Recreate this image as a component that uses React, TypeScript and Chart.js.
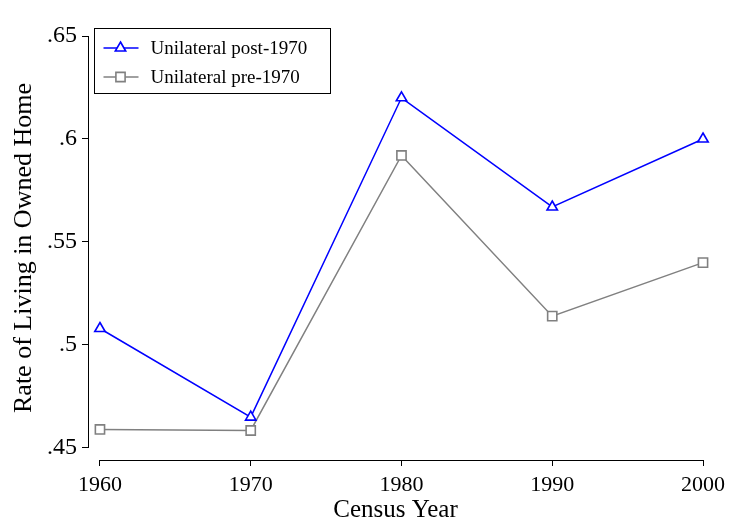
import React, { useEffect, useRef } from "react";
import { Chart, registerables } from "chart.js";

Chart.register(...registerables);

const YEARS = [1960, 1970, 1980, 1990, 2000];
const POST_1970 = [0.508, 0.465, 0.62, 0.567, 0.6];
const PRE_1970 = [0.459, 0.4585, 0.592, 0.514, 0.54];
const Y_TICKS = [0.45, 0.5, 0.55, 0.6, 0.65];
const X_TICKS = [1960, 1970, 1980, 1990, 2000];
const SERIES_LABELS = ["Unilateral post-1970", "Unilateral pre-1970"];

const FONT = "'Liberation Serif', 'DejaVu Serif', serif";

const axisLines = {
  id: "axisLines",
  afterDraw(chart: any) {
    const { ctx, chartArea, scales } = chart;
    const x = scales.x;
    const y = scales.y;
    ctx.save();
    ctx.strokeStyle = "#000";
    ctx.lineWidth = 1;
    const lx = Math.round(chartArea.left) + 0.5;
    const by = Math.round(chartArea.bottom) + 0.5;
    ctx.beginPath();
    ctx.moveTo(lx, y.getPixelForValue(Y_TICKS[0]));
    ctx.lineTo(lx, y.getPixelForValue(Y_TICKS[Y_TICKS.length - 1]));
    ctx.moveTo(x.getPixelForValue(X_TICKS[0]), by);
    ctx.lineTo(x.getPixelForValue(X_TICKS[X_TICKS.length - 1]), by);
    ctx.stroke();
    ctx.restore();
  },
};

function drawMarker(ctx: CanvasRenderingContext2D, style: string, cx: number, cy: number, r: number) {
  ctx.beginPath();
  if (style === "triangle") {
    const a = -Math.PI / 2;
    for (let i = 0; i < 3; i++) {
      const ang = a + (i * 2 * Math.PI) / 3;
      const px = cx + Math.cos(ang) * r;
      const py = cy + Math.sin(ang) * r;
      if (i === 0) ctx.moveTo(px, py);
      else ctx.lineTo(px, py);
    }
    ctx.closePath();
  } else {
    const s = r * Math.SQRT1_2;
    ctx.rect(cx - s, cy - s, 2 * s, 2 * s);
  }
  ctx.fill();
  ctx.stroke();
}

const boxLegend = {
  id: "boxLegend",
  afterDraw(chart: any) {
    const { ctx, chartArea } = chart;
    const x0 = Math.round(chartArea.left) + 6.5;
    const y0 = Math.round(chartArea.top) - 7.5;
    const w = 236;
    const h = 65;
    ctx.save();
    ctx.fillStyle = "#fff";
    ctx.fillRect(x0, y0, w, h);
    ctx.strokeStyle = "#000";
    ctx.lineWidth = 1;
    ctx.strokeRect(x0, y0, w, h);
    chart.data.datasets.forEach((ds: any, i: number) => {
      const cy = y0 + 19.5 + i * 29;
      ctx.strokeStyle = ds.borderColor;
      ctx.lineWidth = 1.5;
      ctx.beginPath();
      ctx.moveTo(x0 + 9, cy);
      ctx.lineTo(x0 + 44, cy);
      ctx.stroke();
      ctx.fillStyle = "#fff";
      ctx.strokeStyle = ds.pointBorderColor;
      ctx.lineWidth = ds.pointBorderWidth;
      drawMarker(ctx, ds.pointStyle, x0 + 26, cy, ds.pointRadius);
      ctx.fillStyle = "#000";
      ctx.font = `19px ${FONT}`;
      ctx.textBaseline = "middle";
      ctx.textAlign = "left";
      ctx.fillText(ds.label, x0 + 56, cy + 1);
    });
    ctx.restore();
  },
};

export default function App() {
  const ref = useRef<HTMLCanvasElement | null>(null);

  useEffect(() => {
    if (!ref.current) return;
    const chart = new Chart(ref.current, {
      type: "line",
      data: {
        labels: YEARS,
        datasets: [
          {
            label: SERIES_LABELS[0],
            data: YEARS.map((yr, i) => ({ x: yr, y: POST_1970[i] })),
            borderColor: "#0000ff",
            borderWidth: 1.5,
            pointStyle: "triangle",
            pointRadius: 6,
            pointBorderWidth: 1.6,
            pointBorderColor: "#0000ff",
            pointBackgroundColor: "#ffffff",
            tension: 0,
            clip: false,
          },
          {
            label: SERIES_LABELS[1],
            data: YEARS.map((yr, i) => ({ x: yr, y: PRE_1970[i] })),
            borderColor: "#808080",
            borderWidth: 1.5,
            pointStyle: "rect",
            pointRadius: 6.5,
            pointBorderWidth: 1.6,
            pointBorderColor: "#808080",
            pointBackgroundColor: "#ffffff",
            tension: 0,
            clip: false,
          },
        ],
      },
      options: {
        responsive: false,
        animation: false,
        layout: { padding: { left: 0, top: 36, right: 26, bottom: 0 } },
        plugins: {
          legend: { display: false },
          tooltip: { enabled: false },
        },
        scales: {
          x: {
            type: "linear",
            min: 1959.207,
            max: 2000,
            afterFit(scale: any) {
              scale.height = 65;
            },
            afterBuildTicks(scale: any) {
              scale.ticks = X_TICKS.map((v) => ({ value: v }));
            },
            border: { display: false },
            grid: {
              display: true,
              drawOnChartArea: false,
              drawTicks: true,
              tickLength: 6,
              color: "#000",
              lineWidth: 1,
            },
            ticks: {
              color: "#000",
              font: { family: FONT, size: 22 },
              padding: 6,
              maxRotation: 0,
              autoSkip: false,
              callback: (v: any) => String(v),
            },
            title: {
              display: true,
              text: "Census Year",
              color: "#000",
              font: { family: FONT, size: 25 },
              padding: { top: 0, bottom: 0 },
            },
          },
          y: {
            type: "linear",
            min: 0.44417,
            max: 0.65,
            afterFit(scale: any) {
              scale.width = 88;
            },
            afterBuildTicks(scale: any) {
              scale.ticks = Y_TICKS.map((v) => ({ value: v }));
            },
            border: { display: false },
            grid: {
              display: true,
              drawOnChartArea: false,
              drawTicks: true,
              tickLength: 6,
              color: "#000",
              lineWidth: 1,
            },
            ticks: {
              color: "#000",
              font: { family: FONT, size: 24 },
              padding: 5,
              autoSkip: false,
              callback: (v: any) => String(v).replace(/^0/, ""),
            },
            title: {
              display: true,
              text: "Rate of Living in Owned Home",
              color: "#000",
              font: { family: FONT, size: 26 },
              padding: { top: 9, bottom: 0 },
            },
          },
        },
      },
      plugins: [axisLines, boxLegend],
    });
    return () => chart.destroy();
  }, []);

  return (
    <div style={{ position: "fixed", left: 0, top: 0, width: 731, height: 525, background: "#fff" }}>
      <canvas ref={ref} width={731} height={525} style={{ display: "block" }} />
    </div>
  );
}
